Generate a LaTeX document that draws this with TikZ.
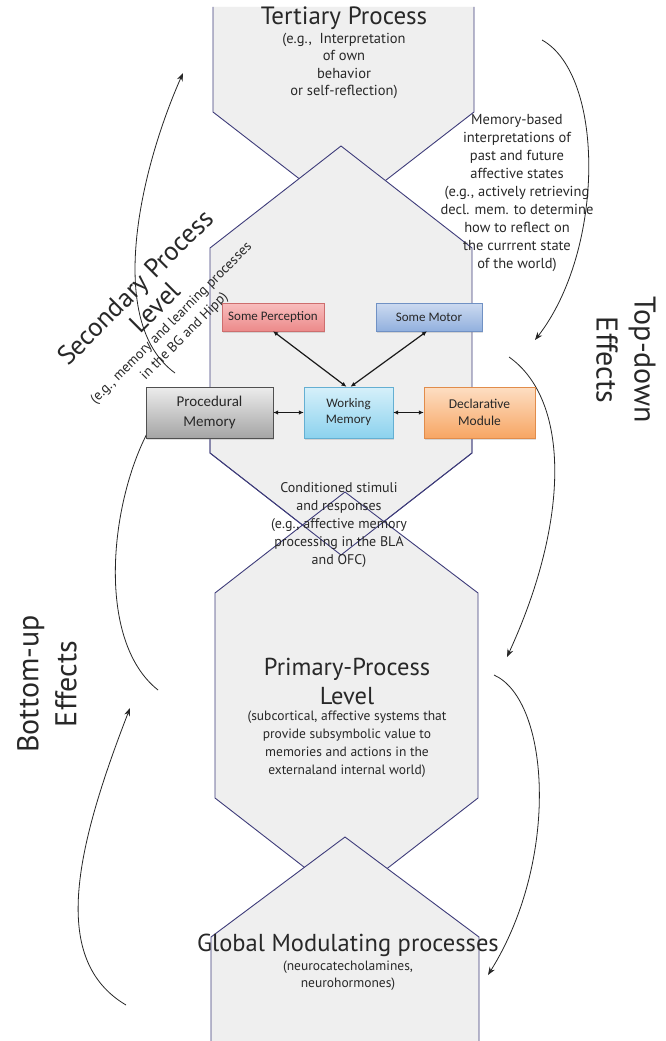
\documentclass[tikz,border=0pt]{standalone}
\usepackage{fontspec}
\setmainfont{PT Sans}
\newfontfamily\boxfont{Carlito}
\usetikzlibrary{arrows.meta,shadows}
\definecolor{shapefill}{RGB}{239,239,239}
\definecolor{shapeline}{RGB}{62,60,122}
\definecolor{txt}{RGB}{40,40,40}
\definecolor{percT}{RGB}{248,190,190}\definecolor{percB}{RGB}{236,138,138}\definecolor{percD}{RGB}{205,110,110}
\definecolor{motT}{RGB}{204,218,240}\definecolor{motB}{RGB}{146,176,222}\definecolor{motD}{RGB}{112,145,196}
\definecolor{proT}{RGB}{236,236,236}\definecolor{proB}{RGB}{165,165,165}\definecolor{proD}{RGB}{80,80,80}
\definecolor{wmT}{RGB}{214,240,250}\definecolor{wmB}{RGB}{140,210,238}\definecolor{wmD}{RGB}{100,175,210}
\definecolor{decT}{RGB}{253,222,195}\definecolor{decB}{RGB}{247,166,100}\definecolor{decD}{RGB}{225,140,75}
\begin{document}
\begin{tikzpicture}[x=1pt,y=-1pt,
  lvlfill/.style={fill=shapefill},
  lvlline/.style={draw=shapeline, line width=0.9pt},
  lbl/.style={align=center, text=txt, inner sep=0pt},
  fx/.style={lbl, font=\fontsize{30}{38}\selectfont},
  mbox/.style={draw, inner sep=0pt, text=txt, align=center,
     font=\boxfont\fontsize{13}{16}\selectfont,
     drop shadow={shadow xshift=1pt, shadow yshift=-1.5pt, opacity=0.25}},
  curv/.style={draw=black!85, line width=0.8pt},
  curvarrow/.style={curv, -{Stealth[length=8pt,width=6pt]}},
  dbl/.style={{Latex[length=5pt,width=4.5pt]}-{Latex[length=5pt,width=4.5pt]}, line width=1.2pt, draw=black!90}
]
\useasboundingbox[fill=white] (0,0) rectangle (666,1041);

% Tertiary
\fill[lvlfill] (213,7) -- (474,7) -- (474,112) -- (343.5,213) -- (213,112) -- cycle;
\draw[lvlline] (213,7) -- (213,112) -- (343.5,213) -- (474,112) -- (474,7);
% Secondary
\filldraw[lvlfill, lvlline] (341,146) -- (472,248) -- (472,453) -- (341,555) -- (210,453) -- (210,248) -- cycle;
% Primary
\filldraw[lvlfill, lvlline] (345,492) -- (478,593) -- (478,798) -- (346.5,900) -- (215,798) -- (215,593) -- cycle;
% secondary outline again (crossing)
\draw[lvlline] (210,430) -- (210,453) -- (341,555) -- (472,453) -- (472,430);
% Global
\fill[lvlfill] (345,837) -- (479,937) -- (479,1045) -- (211,1045) -- (211,937) -- cycle;
\draw[lvlline] (211,1045) -- (211,937) -- (345,837) -- (479,937) -- (479,1045);

% Texts
\node[lbl, font=\fontsize{25}{28}\selectfont] (tert) at (344,18) {Tertiary Process};
\node[lbl, font=\fontsize{14.5}{17.5}\selectfont] (tertsub) at (344,66) {(e.g.,\ \ Interpretation\\of own\\behavior\\or self-reflection)};
\node[lbl, font=\fontsize{14.5}{18}\selectfont] (memtxt) at (517,193) {Memory-based\\interpretations of\\past and future\\affective states\\(e.g., actively retrieving\\decl. mem. to determine\\how to reflect on\\the currrent state\\of the world)};
\node[lbl, rotate=45, font=\fontsize{26.5}{28}\selectfont] (sec) at (145,297) {Secondary Process\\Level};
\node[lbl, rotate=45, font=\fontsize{14}{18.5}\selectfont] (secsub) at (178,330) {(e.g., memory and learning processes\\in the BG and Hipp)};
\node[lbl, font=\fontsize{14}{18}\selectfont] (cond) at (339,525) {Conditioned stimuli\\and responses\\(e.g., affective memory\\processing in the BLA\\and OFC)};
\node[lbl, font=\fontsize{24.5}{29}\selectfont] (prim) at (347,681.5) {Primary-Process\\Level};
\node[lbl, font=\fontsize{13.5}{18}\selectfont] (primsub) at (347,744) {(subcortical, affective systems that\\provide subsymbolic value to\\memories and actions in the\\externaland internal world)};
\node[lbl, font=\fontsize{24.5}{28}\selectfont] (glob) at (348,945) {Global Modulating processes};
\node[lbl, font=\fontsize{13.5}{17}\selectfont] (globsub) at (348,975.5) {(neurocatecholamines,\\neurohormones)};
\node[fx, rotate=-90] (topdown) at (626,360) {Top-down\\Effects};
\node[fx, rotate=90] (bottomup) at (47,684) {Bottom-up\\Effects};

% Curved effect arrows
\coordinate (c1s) at (175,373); \coordinate (c1e) at (183,73);
\coordinate (c2s) at (542,40);  \coordinate (c2e) at (535,340);
\coordinate (c3s) at (509,357); \coordinate (c3e) at (507,657);
\coordinate (c4s) at (494,675); \coordinate (c4e) at (488,975);
\coordinate (c5s) at (150,428); \coordinate (c5e) at (158,690);
\coordinate (c6s) at (126,1005); \coordinate (c6e) at (130,708);
\draw[curvarrow] (c1s) .. controls (105,322) and (140,170) .. (c1e);
\draw[curvarrow] (c2s) .. controls (605,75) and (605,250) .. (c2e);
\draw[curvarrow] (c3s) .. controls (570,400) and (570,520) .. (c3e);
\draw[curvarrow] (c4s) .. controls (550,700) and (560,860) .. (c4e);
\draw[curv] (c5s) .. controls (110,500) and (95,640) .. (c5e);
\draw[curvarrow] (c6s) .. controls (50,960) and (75,850) .. (c6e);

% Module boxes
\node[mbox, draw=percD, top color=percT, bottom color=percB, minimum width=102pt, minimum height=28pt] (perc) at (273,317) {Some Perception};
\node[mbox, draw=motD, top color=motT, bottom color=motB, minimum width=106pt, minimum height=28pt] (motor) at (429,317) {Some Motor};
\node[mbox, draw=proD, top color=proT, bottom color=proB, minimum width=127pt, minimum height=51pt, font=\boxfont\fontsize{15}{20}\selectfont] (proc) at (209.5,412.5) {Procedural\\Memory};
\node[mbox, draw=wmD, top color=wmT, bottom color=wmB, minimum width=89pt, minimum height=51pt] (wm) at (348.5,412.5) {Working\\Memory};
\node[mbox, draw=decD, top color=decT, bottom color=decB, minimum width=111pt, minimum height=51pt, font=\boxfont\fontsize{13.5}{17}\selectfont] (decl) at (479.5,412.5) {Declarative\\Module};

\draw[dbl] (perc.south) -- ([xshift=-2pt]wm.north);
\draw[dbl] ([xshift=-2pt]motor.south) -- ([xshift=2pt]wm.north);
\draw[dbl] (proc.east) -- (wm.west);
\draw[dbl] (wm.east) -- (decl.west);
\end{tikzpicture}
\end{document}
